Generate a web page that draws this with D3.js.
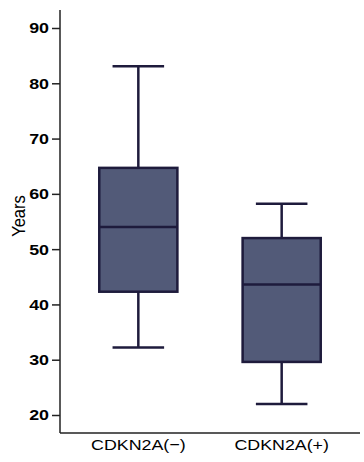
<!DOCTYPE html>
<html>
<head>
<meta charset="utf-8">
<script src="https://cdn.jsdelivr.net/npm/d3@7"></script>
<style>
  html, body { margin: 0; padding: 0; background: #fff; }
  svg { display: block; }
  text { font-family: "Liberation Sans", Arial, sans-serif; fill: #000; }
</style>
</head>
<body>
<svg id="chart" width="364" height="462"></svg>
<script>
const categories = ["CDKN2A(\u2212)", "CDKN2A(+)"];
const whiskerLow = [32.2, 22];
const q1 = [42.3, 29.6];
const median = [54, 43.6];
const q3 = [64.7, 52];
const whiskerHigh = [83.1, 58.2];
const yTicks = [20, 30, 40, 50, 60, 70, 80, 90];
const yLabel = "Years";

const svg = d3.select("#chart");
const mLeft = 60, mRight = 360, mTop = 10, mBottom = 433;
const stretch = 1.15;

const y = d3.scaleLinear().domain([20, 90]).range([415, 28]);
const x = d3.scaleBand().domain(categories).range([62, 358]).paddingInner(0.455).paddingOuter(0.26);

const data = categories.map((c, i) => ({
  c, lo: whiskerLow[i], q1: q1[i], med: median[i], q3: q3[i], hi: whiskerHigh[i]
}));

const stroke = "#1e1b3c";
const fill = "#525a78";

svg.append("line").attr("x1", mLeft).attr("x2", mLeft).attr("y1", mTop).attr("y2", mBottom)
  .attr("stroke", "#222").attr("stroke-width", 1.5);
svg.append("line").attr("x1", mLeft).attr("x2", mRight).attr("y1", mBottom).attr("y2", mBottom)
  .attr("stroke", "#222").attr("stroke-width", 1.5);

const yAxis = d3.axisLeft(y).tickValues(yTicks).tickSize(8).tickPadding(3);
const gy = svg.append("g").attr("transform", `translate(${mLeft},0)`).call(yAxis);
gy.select(".domain").remove();
gy.selectAll(".tick line").attr("stroke", "#222").attr("stroke-width", 1.5);
gy.selectAll(".tick text").attr("font-size", 15.5).attr("font-weight", "bold")
  .attr("font-family", "Liberation Sans, Arial, sans-serif").attr("fill", "#111")
  .attr("x", -11 / stretch).attr("transform", `scale(${stretch},1)`);

const xAxis = d3.axisBottom(x).tickSize(0).tickPadding(6);
const gx = svg.append("g").attr("transform", `translate(0,${mBottom})`).call(xAxis);
gx.select(".domain").remove();
gx.selectAll(".tick text").attr("font-size", 15.5)
  .attr("font-family", "Liberation Sans, Arial, sans-serif").attr("fill", "#000")
  .attr("transform", `scale(${stretch},1)`);

svg.append("text").attr("transform", `translate(25,216) rotate(-90) scale(1,${stretch})`)
  .attr("text-anchor", "middle").attr("font-size", 16.5).text(yLabel);

const bw = x.bandwidth();
const g = svg.append("g").selectAll("g").data(data).join("g");
g.append("line")
  .attr("x1", d => x(d.c) + bw / 2).attr("x2", d => x(d.c) + bw / 2)
  .attr("y1", d => y(d.hi)).attr("y2", d => y(d.lo))
  .attr("stroke", stroke).attr("stroke-width", 2.5);
g.append("line")
  .attr("x1", d => x(d.c) + bw * 0.17).attr("x2", d => x(d.c) + bw * 0.83)
  .attr("y1", d => y(d.hi)).attr("y2", d => y(d.hi))
  .attr("stroke", stroke).attr("stroke-width", 2.5);
g.append("line")
  .attr("x1", d => x(d.c) + bw * 0.17).attr("x2", d => x(d.c) + bw * 0.83)
  .attr("y1", d => y(d.lo)).attr("y2", d => y(d.lo))
  .attr("stroke", stroke).attr("stroke-width", 2.5);
g.append("rect")
  .attr("x", d => x(d.c)).attr("width", bw)
  .attr("y", d => y(d.q3)).attr("height", d => y(d.q1) - y(d.q3))
  .attr("fill", fill).attr("stroke", stroke).attr("stroke-width", 2.5);
g.append("line")
  .attr("x1", d => x(d.c)).attr("x2", d => x(d.c) + bw)
  .attr("y1", d => y(d.med)).attr("y2", d => y(d.med))
  .attr("stroke", stroke).attr("stroke-width", 2.5);
</script>
</body>
</html>
